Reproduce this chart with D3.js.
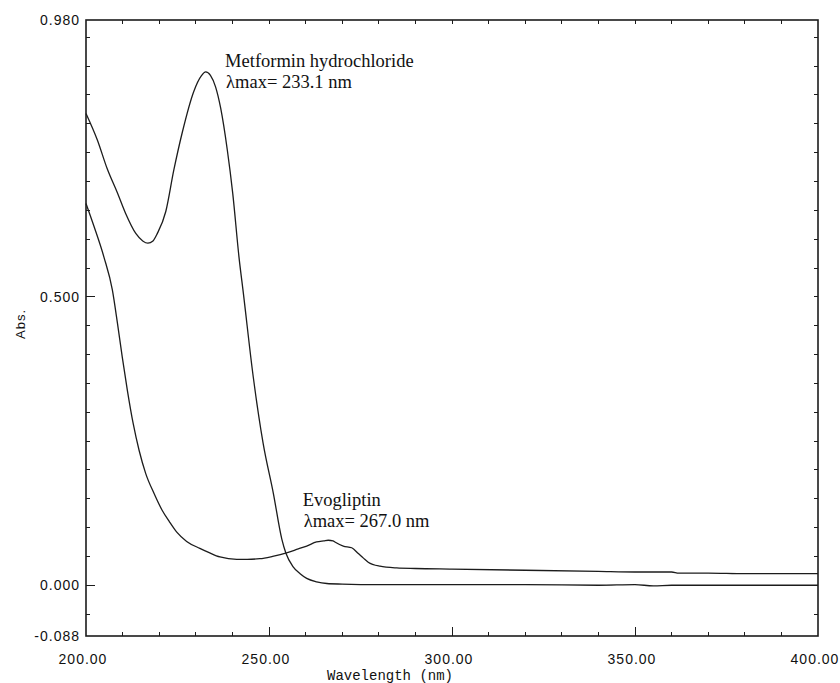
<!DOCTYPE html>
<html>
<head>
<meta charset="utf-8">
<script src="https://cdn.jsdelivr.net/npm/d3@7"></script>
<style>
  html, body { margin: 0; padding: 0; background: #fff; }
  svg { display: block; }
</style>
</head>
<body>
<svg id="chart" width="840" height="683"></svg>
<script>
// ---- data ----
const metforminWl = [200, 203.1, 205.8, 208.6, 210.8, 213.6, 215.5, 216.9, 218.3, 219.5, 221.8, 224.0, 226.3, 229.5, 231.5, 232.7, 234.0, 235.4, 236.8, 238.6, 240.1, 241.8, 243.0, 245.7, 248.4, 251.2, 253.5, 254.6, 256.6, 258.5, 260.3, 263, 265.8, 270, 280, 290, 300, 320, 340, 350, 355, 360, 380, 400];
const metforminAbs = [0.818, 0.772, 0.722, 0.680, 0.645, 0.610, 0.597, 0.593, 0.597, 0.610, 0.648, 0.720, 0.785, 0.857, 0.883, 0.890, 0.884, 0.864, 0.827, 0.755, 0.679, 0.569, 0.506, 0.361, 0.246, 0.159, 0.080, 0.056, 0.032, 0.020, 0.012, 0.006, 0.003, 0.002, 0.001, 0.001, 0.001, 0.001, 0.000, 0.001, -0.001, 0.000, 0.000, 0.000];

const evogliptinWl = [200, 202.2, 204.9, 207.2, 208.6, 209.9, 211.3, 212.9, 214.5, 216.3, 218.6, 220.8, 222.8, 224.8, 227.5, 231.1, 233.5, 236.6, 241.2, 244, 247.5, 251, 254.8, 258, 260.3, 263.0, 265, 266.2, 267.5, 268.0, 270.3, 272.6, 274.4, 275.8, 277.1, 280.3, 284.9, 290, 300, 320, 340, 350, 360, 362, 370, 380, 390, 400];
const evogliptinAbs = [0.662, 0.622, 0.569, 0.512, 0.454, 0.396, 0.338, 0.280, 0.234, 0.194, 0.159, 0.130, 0.110, 0.092, 0.076, 0.064, 0.057, 0.049, 0.045, 0.045, 0.046, 0.050, 0.056, 0.063, 0.068, 0.075, 0.077, 0.078, 0.077, 0.075, 0.068, 0.065, 0.055, 0.047, 0.040, 0.033, 0.030, 0.029, 0.028, 0.026, 0.024, 0.023, 0.023, 0.021, 0.021, 0.020, 0.020, 0.020];

const xDomain = [200, 400];
const yDomain = [-0.088, 0.980];
const xMajorTicks = [200, 250, 300, 350, 400];
const xTickLabels = ["200.00", "250.00", "300.00", "350.00", "400.00"];
const yLabelValues = [0.980, 0.500, 0.000, -0.088];
const yTickLabels = ["0.980", "0.500", "0.000", "-0.088"];
const yMajorTicks = [0.5, 0.0];

const annotations = [
  { wl: 238.0, abs: 0.898, lines: ["Metformin hydrochloride", "\u03BBmax= 233.1 nm"] },
  { wl: 259.2, abs: 0.137, lines: ["Evogliptin", "\u03BBmax= 267.0 nm"] }
];

// ---- layout ----
const svg = d3.select("#chart");
const L = 86, R = 818, T = 20, B = 636;
const x = d3.scaleLinear().domain(xDomain).range([L, R]);
const y = d3.scaleLinear().domain(yDomain).range([B, T]);
const ink = "#1c1c1c";

svg.append("rect").attr("width", 840).attr("height", 683).attr("fill", "#fff");

// minor ticks
const xMinor = d3.range(210, 400, 10).filter(v => v % 50 !== 0);
const yMinor = d3.range(-0.05, 0.96, 0.05).map(v => +v.toFixed(2)).filter(v => Math.abs(v - 0.5) > 1e-6 && Math.abs(v) > 1e-6);

const g = svg.append("g").attr("stroke", ink).attr("stroke-width", 1).attr("shape-rendering", "crispEdges");
xMinor.forEach(v => {
  g.append("line").attr("x1", x(v)).attr("x2", x(v)).attr("y1", B).attr("y2", B - 4);
  g.append("line").attr("x1", x(v)).attr("x2", x(v)).attr("y1", T).attr("y2", T + 4);
});
xMajorTicks.slice(1, -1).forEach(v => {
  g.append("line").attr("x1", x(v)).attr("x2", x(v)).attr("y1", B).attr("y2", B - 9);
  g.append("line").attr("x1", x(v)).attr("x2", x(v)).attr("y1", T).attr("y2", T + 4);
});
yMinor.forEach(v => {
  g.append("line").attr("x1", L).attr("x2", L + 4).attr("y1", y(v)).attr("y2", y(v));
  g.append("line").attr("x1", R).attr("x2", R - 4).attr("y1", y(v)).attr("y2", y(v));
});
yMajorTicks.forEach(v => {
  g.append("line").attr("x1", L).attr("x2", L + 9).attr("y1", y(v)).attr("y2", y(v));
  g.append("line").attr("x1", R).attr("x2", R - 4).attr("y1", y(v)).attr("y2", y(v));
});

// frame
svg.append("rect").attr("x", L).attr("y", T).attr("width", R - L).attr("height", B - T)
  .attr("fill", "none").attr("stroke", ink).attr("stroke-width", 1.6);

// curves
const line = d3.line().x(d => x(d[0])).y(d => y(d[1])).curve(d3.curveMonotoneX);
const series = [
  metforminWl.map((w, i) => [w, metforminAbs[i]]),
  evogliptinWl.map((w, i) => [w, evogliptinAbs[i]])
];
svg.append("g").selectAll("path").data(series).join("path")
  .attr("d", line).attr("fill", "none").attr("stroke", ink).attr("stroke-width", 1.3);

// tick labels
const tickFont = "'Liberation Sans', Arial, sans-serif";
svg.append("g").selectAll("text").data(yLabelValues).join("text")
  .attr("x", 80).attr("y", d => y(d) + 5)
  .attr("text-anchor", "end").attr("font-family", tickFont).attr("font-size", 14)
  .attr("letter-spacing", 1).attr("fill", "#111")
  .text((d, i) => yTickLabels[i]);
svg.append("g").selectAll("text").data(xMajorTicks).join("text")
  .attr("x", d => x(d) - 3).attr("y", 664)
  .attr("text-anchor", "middle").attr("font-family", tickFont).attr("font-size", 14)
  .attr("letter-spacing", 1).attr("fill", "#111")
  .text((d, i) => xTickLabels[i]);

// axis titles
svg.append("text").attr("transform", "translate(25,324) rotate(-90)")
  .attr("text-anchor", "middle").attr("font-family", tickFont).attr("font-size", 13)
  .attr("letter-spacing", 1).attr("fill", "#111").text("Abs.");
svg.append("text").attr("x", 390).attr("y", 680)
  .attr("text-anchor", "middle").attr("font-family", "'Liberation Mono', 'DejaVu Sans Mono', monospace")
  .attr("font-size", 14).attr("fill", "#111").text("Wavelength (nm)");

// annotations
annotations.forEach(a => {
  const t = svg.append("text").attr("font-family", "'Liberation Serif', 'Times New Roman', serif")
    .attr("font-size", 18.5).attr("fill", "#111");
  a.lines.forEach((s, i) => {
    t.append("tspan").attr("x", x(a.wl) + (i === 1 ? 1 : 0)).attr("y", y(a.abs) + i * 21).text(s);
  });
});
</script>
</body>
</html>
